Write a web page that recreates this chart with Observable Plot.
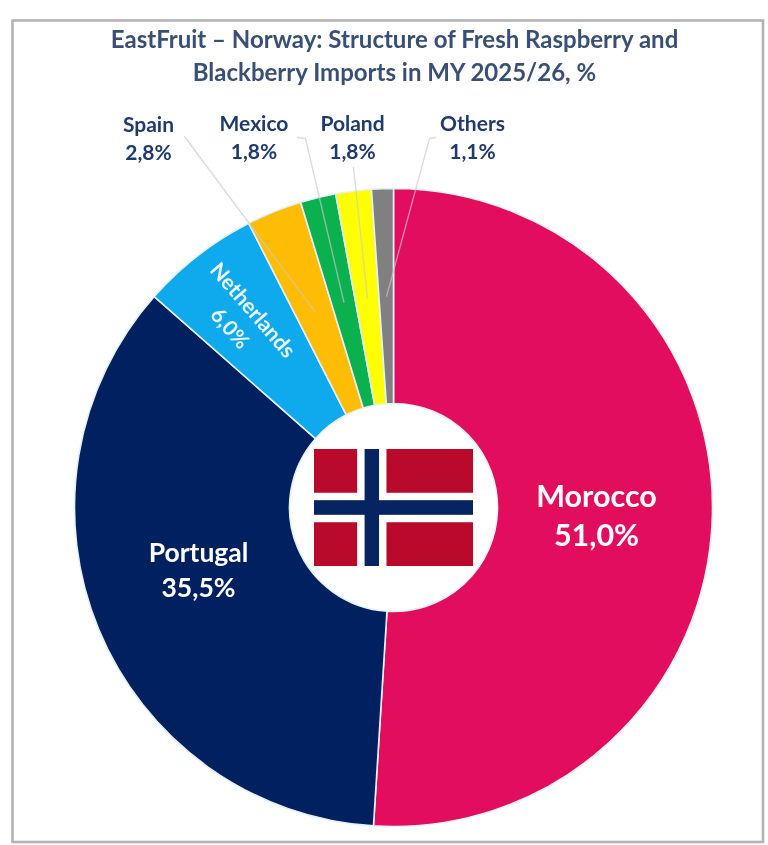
<!DOCTYPE html>
<html>
<head>
<meta charset="utf-8">
<script src="https://cdn.jsdelivr.net/npm/d3@7"></script>
<script src="https://cdn.jsdelivr.net/npm/@observablehq/plot@0.6"></script>
<style>
html,body{margin:0;padding:0;background:#fff}
svg{display:block;filter:blur(0.55px)}
</style>
</head>
<body>
<div id="chart"></div>
<script>
const titleLines = ["EastFruit – Norway: Structure of Fresh Raspberry and", "Blackberry Imports in MY 2025/26, %"];
const categories = ["Morocco", "Portugal", "Netherlands", "Spain", "Mexico", "Poland", "Others"];
const shares = [51.0, 35.5, 6.0, 2.8, 1.8, 1.8, 1.1];
const shareLabels = ["51,0%", "35,5%", "6,0%", "2,8%", "1,8%", "1,8%", "1,1%"];
const sliceColors = ["#e20d5c", "#00205f", "#0fa9ee", "#ffbc05", "#0bb04f", "#ffff00", "#808080"];

// Page geometry of the picture
const W = 768, H = 845, CX = 393.5, CY = 507.5, R = 319, r0 = 104;

// Labels placed in page pixels
const bigLabels = [
  {name: "Morocco", x: 596, y: 497, v: "51,0%", vy: 536, size: 30.5},
  {name: "Portugal", x: 198, y: 553, v: "35,5%", vy: 588, size: 26.5}
];
const topLabels = [
  {name: "Spain", x: 148, y: 125, vy: 153},
  {name: "Mexico", x: 253.5, y: 124, vy: 152},
  {name: "Poland", x: 352, y: 124, vy: 152},
  {name: "Others", x: 472, y: 124, vy: 152}
];
const leaderStarts = {
  Spain: [[184, 136]],
  Mexico: [[297, 137], [305, 138]],
  Poland: [[353, 167]],
  Others: [[435, 137], [429, 138]]
};
const leaderEndRadius = 212;

// Flag in its own grid: Norway's 22 x 16 layout
const flagCols = [0, 6, 7, 9, 10, 22];
const flagRows = [0, 6, 7, 9, 10, 16];
const flagLeft = 314, flagTop = 449, flagW = 159, flagH = 117;
const fx = u => flagLeft + u / 22 * flagW;
const fy = u => flagTop + u / 16 * flagH;
const flagRed = [[0, 1, 0, 1], [4, 5, 0, 1], [0, 1, 4, 5], [4, 5, 4, 5]].map(([a, b, c, d]) => ({
  x1: fx(flagCols[a + 0]), x2: fx(flagCols[a + 1]), y1: fy(flagRows[c]), y2: fy(flagRows[c + 1])
}));
const flagWhiteCross = [
  {x1: fx(6), x2: fx(10), y1: fy(0), y2: fy(16)},
  {x1: fx(0), x2: fx(22), y1: fy(6), y2: fy(10)}
];
const flagBlueCross = [
  {x1: fx(7), x2: fx(9), y1: fy(0), y2: fy(16)},
  {x1: fx(0), x2: fx(22), y1: fy(7), y2: fy(9)}
];

const slices = categories.map((name, i) => ({name, share: shares[i], label: shareLabels[i], color: sliceColors[i]}));
const arcs = d3.pie().sort(null).value(d => d.share)(slices);
const midAngle = Object.fromEntries(arcs.map(a => [a.data.name, (a.startAngle + a.endAngle) / 2]));

const leaders = Object.entries(leaderStarts).flatMap(([name, pts]) => {
  const m = midAngle[name];
  const end = [CX + leaderEndRadius * Math.sin(m), CY - leaderEndRadius * Math.cos(m)];
  return [...pts, end].map(p => ({name, x: p[0], y: p[1]}));
});

function donut(index, scales) {
  const k = scales.x(1) - scales.x(0);
  const arc = d3.arc().innerRadius(r0 * k).outerRadius(R * k);
  const g = d3.create("svg:g")
    .attr("aria-label", "donut")
    .attr("transform", `translate(${scales.x(CX)},${scales.y(CY)})`);
  g.selectAll("path").data(arcs).join("path")
    .attr("d", arc)
    .attr("fill", d => d.data.color)
    .attr("stroke", "#e4f1f8")
    .attr("stroke-width", 1.6)
    .append("title").text(d => `${d.data.name} ${d.data.label}`);
  return g.node();
}

const font = "Lato, 'Open Sans', sans-serif";
const navy = "#1f3a6e";

const chart = Plot.plot({
  width: W, height: H, margin: 0,
  style: {fontFamily: font, background: "#fff"},
  x: {domain: [0, W], range: [0, W], axis: null},
  y: {domain: [0, H], range: [0, H], axis: null},
  marks: [
    Plot.rect([{x1: 12.5, x2: 763, y1: 20.5, y2: 842}], {x1: "x1", x2: "x2", y1: "y1", y2: "y2", fill: "#fff", stroke: "#b4b4b4", strokeWidth: 2.6}),
    donut,
    Plot.rect(flagRed, {x1: "x1", x2: "x2", y1: "y1", y2: "y2", fill: "#b90a2c"}),
    Plot.rect(flagWhiteCross, {x1: "x1", x2: "x2", y1: "y1", y2: "y2", fill: "#fff"}),
    Plot.rect(flagBlueCross, {x1: "x1", x2: "x2", y1: "y1", y2: "y2", fill: "#06245f"}),
    Plot.line(leaders, {x: "x", y: "y", z: "name", stroke: "#c9c9c9", strokeWidth: 1.4, strokeOpacity: 0.65, curve: "linear"}),
    Plot.text(titleLines, {x: () => 394, y: (d, i) => [40, 73][i], text: d => d, fontSize: 24, fontWeight: 700, fill: "#3a4f76", textAnchor: "middle"}),
    Plot.text(topLabels, {x: "x", y: "y", text: "name", fontSize: 21, fontWeight: 700, fill: navy}),
    Plot.text(topLabels, {x: "x", y: "vy", text: d => shareLabels[categories.indexOf(d.name)], fontSize: 21, fontWeight: 700, fill: navy}),
    Plot.text(bigLabels, {x: "x", y: "y", text: "name", fontSize: d => d.size, fontWeight: 700, fill: "#fff"}),
    Plot.text(bigLabels, {x: "x", y: "vy", text: "v", fontSize: d => d.size, fontWeight: 700, fill: "#fff"}),
    Plot.text(["Netherlands"], {x: () => 252, y: () => 310, text: d => d, rotate: 49, fontSize: 21.5, fontWeight: 700, fill: "#e8f6fd"}),
    Plot.text(["6,0%"], {x: () => 229, y: () => 328, text: d => d, rotate: 49, fontSize: 21, fontWeight: 700, fill: "#e8f6fd"})
  ]
});
document.getElementById("chart").append(chart);
</script>
</body>
</html>
